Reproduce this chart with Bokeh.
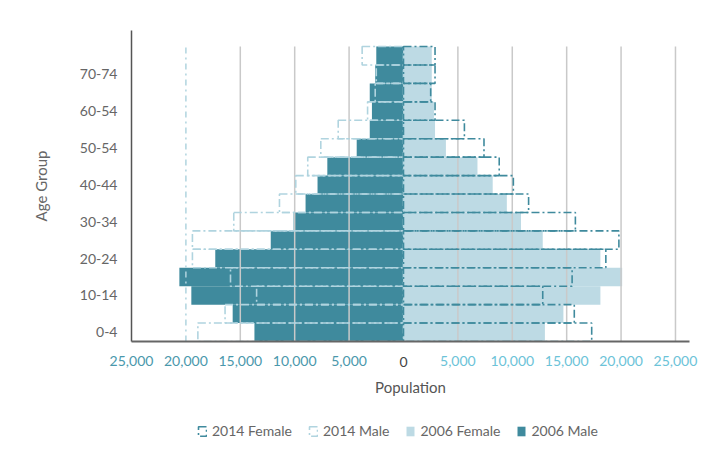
from bokeh.plotting import figure
from bokeh.layouts import column
from bokeh.models import (ColumnDataSource, Range1d, FixedTicker, LinearAxis,
                          Legend, LegendItem)
from bokeh.embed import file_html
from bokeh.resources import INLINE

# ---- data ----
age_groups = ["0-4", "5-9", "10-14", "15-19", "20-24", "25-29", "30-34", "35-39",
              "40-44", "45-49", "50-54", "55-59", "60-64", "65-69", "70-74", "75-79"]
male_2006 = [13700, 15700, 19500, 20600, 17300, 12200, 10100, 9000,
             7900, 7000, 4300, 3100, 2900, 3100, 2600, 2500]
female_2006 = [13000, 14700, 18100, 20100, 18100, 12800, 10800, 9500,
               8200, 6800, 3900, 2900, 2800, 2600, 2600, 2600]
female_2014 = [17300, 15700, 12800, 15500, 18600, 19800, 15800, 11500,
               10100, 8800, 7400, 5600, 2900, 2500, 2900, 2900]
male_2014 = [18900, 16400, 13500, 15900, 19400, 19400, 15600, 11400,
             9900, 8800, 7600, 6000, 3300, 2600, 2500, 3800]
series_names = ["2014 Female", "2014 Male", "2006 Female", "2006 Male"]
y_tick_positions = [0, 2, 4, 6, 8, 10, 12, 14]
y_tick_labels = ["0-4", "10-14", "20-24", "30-34", "40-44", "50-54", "60-54", "70-74"]
x_ticks_left = [-25000, -20000, -15000, -10000, -5000]
x_ticks_zero = [0]
x_ticks_right = [5000, 10000, 15000, 20000, 25000]
x_tick_labels = {-25000: "25,000", -20000: "20,000", -15000: "15,000", -10000: "10,000",
                 -5000: "5,000", 0: "0", 5000: "5,000", 10000: "10,000",
                 15000: "15,000", 20000: "20,000", 25000: "25,000"}

DARK = "#3f8a9d"
LIGHT = "#bddae4"
LIGHT_LINE = "#b0d4df"
FONT = "Lato"
DASH = "8 3 2 3"

idx = list(range(len(age_groups)))
src = ColumnDataSource(dict(
    y=idx,
    m06=[-v for v in male_2006],
    f06=female_2006,
    m14=[-v for v in male_2014],
    f14=female_2014,
    zero=[0] * len(idx),
))


def draw_series(fig):
    rm06 = fig.hbar(y="y", left="m06", right="zero", height=1, source=src,
                    fill_color=DARK, line_color=None)
    rf06 = fig.hbar(y="y", left="zero", right="f06", height=1, source=src,
                    fill_color=LIGHT, line_color=None)
    return rm06, rf06


def draw_outlines(fig):
    rm14 = fig.hbar(y="y", left="m14", right="zero", height=1, source=src,
                    fill_alpha=0, line_color=LIGHT_LINE, line_width=1.6, line_dash=DASH)
    rf14 = fig.hbar(y="y", left="zero", right="f14", height=1, source=src,
                    fill_alpha=0, line_color=DARK, line_width=1.6, line_dash=DASH)
    return rm14, rf14


p = figure(width=715, height=400, output_backend="svg", toolbar_location=None,
           x_range=Range1d(-25000, 26290), y_range=Range1d(-0.5, 16.37),
           min_border_left=131, min_border_right=26, min_border_top=30,
           min_border_bottom=59)
p.outline_line_color = None
p.xgrid.grid_line_color = None
p.ygrid.grid_line_color = None

draw_series(p)

# grid lines (drawn over the filled bars)
grid_x = [t for t in x_ticks_left + x_ticks_right if t not in (-25000, -20000)]
gsrc = ColumnDataSource(dict(x=grid_x, y0=[-0.5] * len(grid_x), y1=[15.5] * len(grid_x)))
p.segment(x0="x", x1="x", y0="y0", y1="y1", source=gsrc, line_color="#c9c9c9", line_width=1.5)
gsrc2 = ColumnDataSource(dict(x=[-20000], y0=[-0.5], y1=[15.5]))
p.segment(x0="x", x1="x", y0="y0", y1="y1", source=gsrc2, line_color=LIGHT_LINE,
          line_width=1.5, line_dash="6 4 2 4")

draw_outlines(p)

# y axis
p.yaxis.ticker = FixedTicker(ticks=y_tick_positions)
p.yaxis.major_label_overrides = {t: l for t, l in zip(y_tick_positions, y_tick_labels)}
p.yaxis.major_tick_line_color = None
p.yaxis.major_tick_out = 0
p.yaxis.minor_tick_line_color = None
p.yaxis.axis_line_color = "#555555"
p.yaxis.axis_line_width = 1.5
p.yaxis.major_label_standoff = 14
p.yaxis.major_label_text_font = FONT
p.yaxis.major_label_text_font_size = "14px"
p.yaxis.major_label_text_color = "#666666"
p.yaxis.axis_label = "Age Group"
p.yaxis.axis_label_text_font = FONT
p.yaxis.axis_label_text_font_size = "15px"
p.yaxis.axis_label_text_font_style = "normal"
p.yaxis.axis_label_text_color = "#666666"
p.yaxis.axis_label_standoff = 27


def style_x(ax, ticks, color, standoff):
    ax.ticker = FixedTicker(ticks=ticks)
    ax.major_label_overrides = {t: x_tick_labels[t] for t in ticks}
    ax.major_label_text_color = color
    ax.major_label_text_font = FONT
    ax.major_label_text_font_size = "14px"
    ax.major_tick_line_color = None
    ax.major_tick_out = 0
    ax.major_tick_in = 0
    ax.minor_tick_line_color = None
    ax.minor_tick_out = 0
    ax.major_label_standoff = standoff


# axis next to the frame: draws the axis line and the "0" label
ax0 = p.xaxis[0]
style_x(ax0, x_ticks_zero, "#444444", 15)
ax0.axis_line_color = "#666666"
ax0.axis_line_width = 2

# further axes share the same label row (negative standoff)
axr = LinearAxis()
style_x(axr, x_ticks_right, "#6cc3d8", -14)
axr.axis_line_color = None

axl = LinearAxis()
style_x(axl, x_ticks_left, "#4a98ac", -14)
axl.axis_line_color = None
axl.axis_label = "Population"
axl.axis_label_text_font = FONT
axl.axis_label_text_font_size = "15px"
axl.axis_label_text_font_style = "normal"
axl.axis_label_text_color = "#555555"
axl.axis_label_standoff = 9

p.below = [ax0, axr, axl]

# ---- legend strip (separate figure; its series renderers are hidden) ----
pl = figure(width=715, height=56, output_backend="svg", toolbar_location=None,
            x_range=Range1d(0, 1), y_range=Range1d(100, 101),
            x_axis_location=None, y_axis_location=None, min_border=0)
pl.outline_line_color = None
pl.xgrid.grid_line_color = None
pl.ygrid.grid_line_color = None
g_m06, g_f06 = draw_series(pl)
g_m14, g_f14 = draw_outlines(pl)
for g in (g_m06, g_f06, g_m14, g_f14):
    g.visible = False

legend = Legend(items=[LegendItem(label=n, renderers=[r]) for n, r in
                       zip(series_names, [g_f14, g_m14, g_f06, g_m06])],
                orientation="horizontal", location=(66, 17))
legend.label_text_font = FONT
legend.label_text_font_size = "14px"
legend.label_text_color = "#666666"
legend.glyph_width = 10
legend.glyph_height = 12
legend.label_standoff = 5
legend.spacing = 16
legend.border_line_color = None
legend.background_fill_alpha = 0
legend.padding = 2
legend.margin = 0
legend.click_policy = "none"
pl.add_layout(legend, "center")

layout = column(p, pl, spacing=0)
open("out.html", "w").write(file_html(layout, INLINE))
